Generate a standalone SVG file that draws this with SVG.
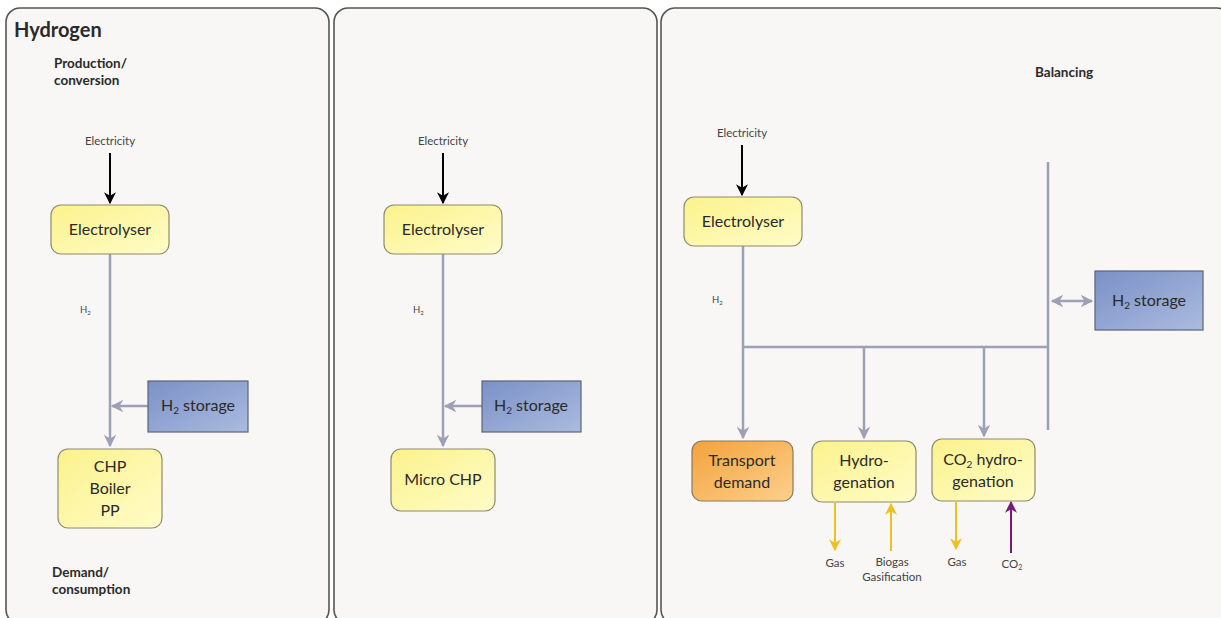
<svg xmlns="http://www.w3.org/2000/svg" width="1221" height="618" viewBox="0 0 1221 618">
<defs>
<style>
.panel{fill:#f8f7f5;stroke:#555;stroke-width:1.6}
.ybox{fill:url(#gy);stroke:#8c8c6e;stroke-width:1.2}
.obox{fill:url(#go);stroke:#8c7a5a;stroke-width:1.2}
.bbox{fill:url(#gb);stroke:#5a6478;stroke-width:1.2}
.t{font-family:Lato,"Open Sans","Liberation Sans",sans-serif;fill:#2a2a2a}
.bt{font-size:16px;text-anchor:middle}
.sm{font-size:11.5px;fill:#444;text-anchor:middle}
.hd{font-size:13.5px;font-weight:bold}
.g{stroke:#9da0b6;stroke-width:2.5;fill:none}
.k{stroke:#000;stroke-width:2;fill:none}
.y{stroke:#f0c020;stroke-width:2;fill:none}
.p{stroke:#7a1a78;stroke-width:2;fill:none}
</style>
<linearGradient id="gy" x1="0" y1="0" x2="1" y2="1"><stop offset="0" stop-color="#fbf28c"/><stop offset="1" stop-color="#fffcc8"/></linearGradient>
<linearGradient id="go" x1="0" y1="0" x2="1" y2="1"><stop offset="0" stop-color="#f3a23c"/><stop offset="1" stop-color="#fdd08c"/></linearGradient>
<linearGradient id="gb" x1="0" y1="0" x2="1" y2="1"><stop offset="0" stop-color="#7b91c6"/><stop offset="1" stop-color="#abbbdf"/></linearGradient>
<marker id="ag" viewBox="0 0 10 10" refX="9" refY="5" markerWidth="5" markerHeight="5" orient="auto-start-reverse" markerUnits="strokeWidth"><path d="M0,0 L10,5 L0,10 L3,5 Z" fill="#9da0b6"/></marker>
<marker id="ak" viewBox="0 0 10 10" refX="9" refY="5" markerWidth="6" markerHeight="6" orient="auto" markerUnits="strokeWidth"><path d="M0,0 L10,5 L0,10 L3,5 Z" fill="#000"/></marker>
<marker id="ay" viewBox="0 0 10 10" refX="9" refY="5" markerWidth="6" markerHeight="6" orient="auto" markerUnits="strokeWidth"><path d="M0,0 L10,5 L0,10 L3,5 Z" fill="#f0c020"/></marker>
<marker id="ap" viewBox="0 0 10 10" refX="9" refY="5" markerWidth="6" markerHeight="6" orient="auto" markerUnits="strokeWidth"><path d="M0,0 L10,5 L0,10 L3,5 Z" fill="#7a1a78"/></marker>
</defs>
<rect width="1221" height="618" fill="#ffffff"/>
<g id="panels">
<rect class="panel" x="6" y="8" width="323" height="616" rx="14"/>
<rect class="panel" x="334" y="8" width="323" height="616" rx="14"/>
<rect class="panel" x="661" y="8" width="570" height="616" rx="14"/>
</g>
<g id="labels" class="t">
<text x="14" y="37" style="font-size:20px;font-weight:bold">Hydrogen</text>
<text class="hd" x="54" y="68">Production/</text>
<text class="hd" x="54" y="85">conversion</text>
<text class="hd" x="52" y="577">Demand/</text>
<text class="hd" x="52" y="594">consumption</text>
<text class="hd" x="1035" y="77">Balancing</text>
<text class="sm" x="110" y="145">Electricity</text>
<text class="sm" x="443" y="145">Electricity</text>
<text class="sm" x="742" y="137">Electricity</text>
<text x="80" y="313" style="font-size:9.5px;fill:#444">H<tspan font-size="6" dy="2">2</tspan></text>
<text x="413" y="313" style="font-size:9.5px;fill:#444">H<tspan font-size="6" dy="2">2</tspan></text>
<text x="712" y="303" style="font-size:9.5px;fill:#444">H<tspan font-size="6" dy="2">2</tspan></text>
<text class="sm" x="835" y="567">Gas</text>
<text class="sm" x="892" y="566">Biogas</text>
<text class="sm" x="892" y="581">Gasification</text>
<text class="sm" x="957" y="566">Gas</text>
<text class="sm" x="1012" y="568">CO<tspan font-size="7" dy="2">2</tspan></text>
</g>
<g id="connectors">
<line class="k" x1="110" y1="153" x2="110" y2="203" marker-end="url(#ak)"/>
<line class="k" x1="443" y1="153" x2="443" y2="203" marker-end="url(#ak)"/>
<line class="k" x1="742" y1="145" x2="742" y2="195" marker-end="url(#ak)"/>
<line class="g" x1="110" y1="254" x2="110" y2="446" marker-end="url(#ag)"/>
<line class="g" x1="148" y1="406" x2="112" y2="406" marker-end="url(#ag)"/>
<line class="g" x1="443" y1="254" x2="443" y2="446" marker-end="url(#ag)"/>
<line class="g" x1="482" y1="406" x2="445" y2="406" marker-end="url(#ag)"/>
<line class="g" x1="743" y1="246" x2="743" y2="438" marker-end="url(#ag)"/>
<line class="g" x1="743" y1="347" x2="1048" y2="347"/>
<line class="g" x1="1048" y1="162" x2="1048" y2="430"/>
<line class="g" x1="864" y1="347" x2="864" y2="438" marker-end="url(#ag)"/>
<line class="g" x1="984" y1="347" x2="984" y2="436" marker-end="url(#ag)"/>
<line class="g" x1="1052" y1="301" x2="1092" y2="301" marker-start="url(#ag)" marker-end="url(#ag)"/>
<line class="y" x1="835" y1="503" x2="835" y2="550" marker-end="url(#ay)"/>
<line class="y" x1="891" y1="551" x2="891" y2="504" marker-end="url(#ay)"/>
<line class="y" x1="956" y1="502" x2="956" y2="549" marker-end="url(#ay)"/>
<line class="p" x1="1011" y1="553" x2="1011" y2="502" marker-end="url(#ap)"/>
</g>
<g id="n-electrolyser1"><rect class="ybox" x="51" y="205" width="118" height="49" rx="10"/><text class="t bt" x="110" y="235">Electrolyser</text></g>
<g id="n-storage1"><rect class="bbox" x="148" y="381" width="100" height="51"/><text class="t bt" x="198" y="411">H<tspan font-size="10" dy="3">2</tspan><tspan dy="-3"> storage</tspan></text></g>
<g id="n-chp"><rect class="ybox" x="58" y="449" width="104" height="79" rx="10"/><text class="t bt" x="110" y="472">CHP</text><text class="t bt" x="110" y="494">Boiler</text><text class="t bt" x="110" y="516">PP</text></g>
<g id="n-electrolyser2"><rect class="ybox" x="384" y="205" width="118" height="49" rx="10"/><text class="t bt" x="443" y="235">Electrolyser</text></g>
<g id="n-storage2"><rect class="bbox" x="482" y="381" width="99" height="51"/><text class="t bt" x="531" y="411">H<tspan font-size="10" dy="3">2</tspan><tspan dy="-3"> storage</tspan></text></g>
<g id="n-microchp"><rect class="ybox" x="391" y="449" width="104" height="62" rx="10"/><text class="t bt" x="443" y="485">Micro CHP</text></g>
<g id="n-electrolyser3"><rect class="ybox" x="684" y="197" width="118" height="49" rx="10"/><text class="t bt" x="743" y="227">Electrolyser</text></g>
<g id="n-storage3"><rect class="bbox" x="1095" y="271" width="108" height="59"/><text class="t bt" x="1149" y="306">H<tspan font-size="10" dy="3">2</tspan><tspan dy="-3"> storage</tspan></text></g>
<g id="n-transport"><rect class="obox" x="692" y="441" width="101" height="60" rx="10"/><text class="t bt" x="742" y="466">Transport</text><text class="t bt" x="742" y="488">demand</text></g>
<g id="n-hydrogenation"><rect class="ybox" x="812" y="441" width="104" height="61" rx="10"/><text class="t bt" x="864" y="466">Hydro-</text><text class="t bt" x="864" y="488">genation</text></g>
<g id="n-co2hydrogenation"><rect class="ybox" x="932" y="439" width="103" height="62" rx="10"/><text class="t bt" x="983" y="465">CO<tspan font-size="10" dy="3">2</tspan><tspan dy="-3"> hydro-</tspan></text><text class="t bt" x="983" y="487">genation</text></g>
</svg>
